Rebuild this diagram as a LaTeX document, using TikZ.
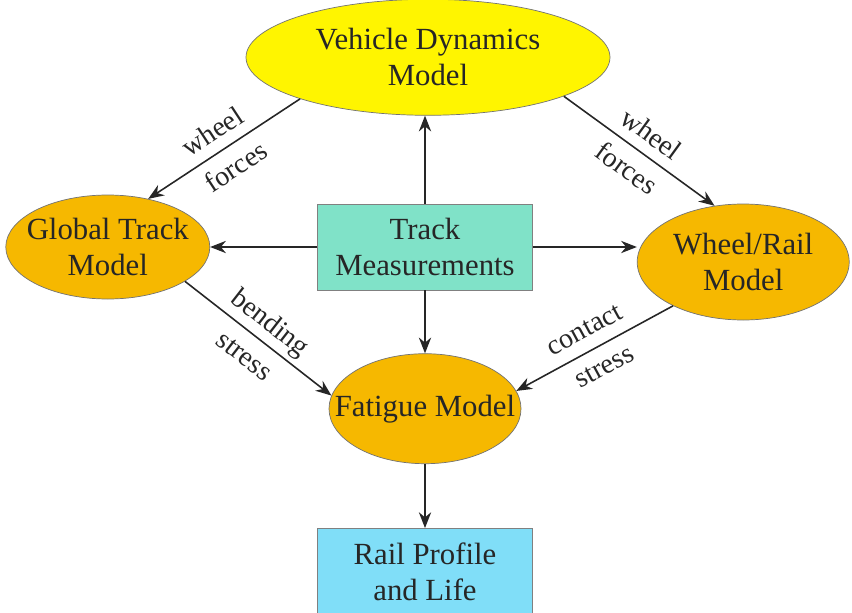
\documentclass[tikz,border=0pt]{standalone}
\usepackage{fontspec}
\setmainfont{Liberation Serif}
\usetikzlibrary{shapes.geometric, arrows.meta, positioning}

\definecolor{vehicleyellow}{HTML}{FFF500}
\definecolor{modelorange}{HTML}{F6B800}
\definecolor{trackteal}{HTML}{80E2C8}
\definecolor{railblue}{HTML}{80DEF8}

\begin{document}
\begin{tikzpicture}[
    node distance=1.5cm,
    txt/.style={align=center, font=\fontsize{17.5}{20.5}\selectfont, text=black!85},
    model/.style={ellipse, draw=black!55, fill=modelorange, inner sep=0pt, label={[txt]center:#1}},
    vehicle/.style={model={#1}, fill=vehicleyellow},
    meas/.style={rectangle, draw=black!50, txt, minimum width=4.3cm, minimum height=1.72cm},
    flow/.style={draw=black!85, line width=0.9pt, -{Stealth[length=9pt,width=7pt]}},
    lbl/.style={sloped, midway, align=center, inner sep=1pt, font=\fontsize{16}{24}\selectfont, text=black!85}
]
    \useasboundingbox (0,0) rectangle (17.04,-12.24);

    \node [meas, fill=trackteal] (tm) at (8.5,-4.94) {Track\\Measurements};
    \node [vehicle={Vehicle Dynamics\\Model}, minimum width=7.28cm, minimum height=2.32cm, above=1.76cm of tm, xshift=0.06cm] (vdm) {};
    \node [model={Global Track\\Model}, minimum width=4.08cm, minimum height=2.08cm, left=2.14cm of tm] (gtm) {};
    \node [model={Wheel/Rail\\Model}, minimum width=4.24cm, minimum height=2.32cm, right=2.08cm of tm, yshift=-0.3cm] (wrm) {};
    \node [model={Fatigue Model}, minimum width=3.84cm, minimum height=2.2cm, below=1.26cm of tm] (fm) {};
    \node [meas, fill=railblue, below=1.28cm of fm] (rp) {Rail Profile\\and Life};

    \draw [flow] (tm.north) -- (tm.north |- vdm.south);
    \draw [flow] (tm.west) -- (gtm.east);
    \draw [flow] (tm.east) -- (wrm.west |- tm.east);
    \draw [flow] (tm.south) -- (fm.north);
    \draw [flow] (fm.south) -- (rp.north);

    \draw [flow] (vdm.198) -- node [lbl] {wheel\\forces} (gtm.50);
    \draw [flow] (vdm.344) -- node [lbl] {wheel\\forces} (wrm.117);
    \draw [flow] (gtm.336) -- node [lbl] {bending\\stress} (fm.172);
    \draw [flow] (wrm.212) -- node [lbl] {contact\\stress} (fm.11);
\end{tikzpicture}
\end{document}
